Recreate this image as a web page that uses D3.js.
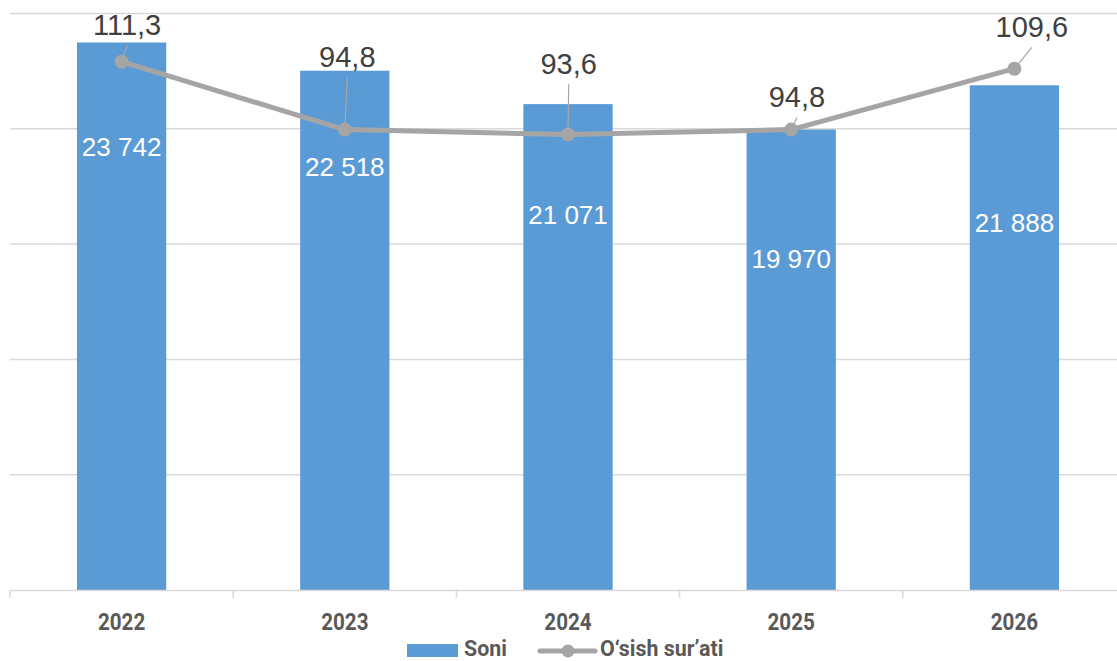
<!DOCTYPE html>
<html>
<head>
<meta charset="utf-8">
<script src="https://cdn.jsdelivr.net/npm/d3@7"></script>
<style>
  html, body { margin: 0; padding: 0; background: #fff; }
  svg { display: block; }
</style>
</head>
<body>
<svg id="chart" width="1117" height="661"></svg>
<script>
// ---- data ----
const years = ["2022", "2023", "2024", "2025", "2026"];
const soni = [23742, 22518, 21071, 19970, 21888];
const osish = [111.3, 94.8, 93.6, 94.8, 109.6];
const soniLabels = ["23 742", "22 518", "21 071", "19 970", "21 888"];
const osishLabels = ["111,3", "94,8", "93,6", "94,8", "109,6"];
const yTicks = [0, 5000, 10000, 15000, 20000, 25000];
const seriesNames = ["Soni", "O\u2018sish sur\u2019ati"];

// ---- label placement (style, not data) ----
const barLabelOffset = [113.5, 105, 120.2, 138.8, 146.4];
const lineLabelOffset = [[5.5, -26.2], [2.5, -62.5], [0.7, -60.2], [5.75, -22.2], [17.5, -31.4]];

(function () {
const svg = d3.select("#chart");
const pLeft = 10, pRight = 1126, pTop = 13.5, pBottom = 590;

const x = d3.scaleBand().domain(years).range([pLeft, pRight]).paddingInner(0).paddingOuter(0);
const y = d3.scaleLinear().domain([0, 25000]).range([pBottom, pTop]);
const y2 = d3.scaleLinear().domain([-17, 123]).range([pBottom, pTop]);
const barW = x.bandwidth() * 0.4;

// gridlines
svg.append("g").selectAll("line").data(yTicks.slice(1)).join("line")
  .attr("x1", pLeft).attr("x2", 1117)
  .attr("y1", d => y(d)).attr("y2", d => y(d))
  .attr("stroke", "#d9d9d9").attr("stroke-width", 1.5);

// bars
svg.append("g").selectAll("rect").data(soni).join("rect")
  .attr("x", (d, i) => x(years[i]) + (x.bandwidth() - barW) / 2)
  .attr("y", d => y(d))
  .attr("width", barW)
  .attr("height", d => y(0) - y(d))
  .attr("fill", "#5b9bd5");

// x axis
const xAxis = d3.axisBottom(x).tickSize(0).tickFormat(() => "");
const gx = svg.append("g").attr("transform", `translate(0,${pBottom})`).call(xAxis);
gx.select(".domain").attr("stroke", "#d9d9d9").attr("stroke-width", 1.5);
const edges = years.map(d => x(d)).concat([x(years[years.length - 1]) + x.bandwidth()]);
gx.selectAll(".edge").data(edges).join("line").attr("class", "edge")
  .attr("x1", d => d).attr("x2", d => d).attr("y1", 0).attr("y2", 8)
  .attr("stroke", "#d9d9d9").attr("stroke-width", 1.5);

// x labels
svg.append("g").selectAll("text").data(years).join("text")
  .attr("transform", d => `translate(${x(d) + x.bandwidth() / 2},630) scale(0.86,1)`)
  .attr("text-anchor", "middle")
  .attr("font-family", "Roboto, 'Liberation Sans', sans-serif")
  .attr("font-weight", "bold").attr("font-size", 24)
  .attr("fill", "#595959")
  .text(d => d);

// bar labels
svg.append("g").selectAll("text").data(soni).join("text")
  .attr("x", (d, i) => x(years[i]) + x.bandwidth() / 2)
  .attr("y", (d, i) => y(d) + barLabelOffset[i])
  .attr("text-anchor", "middle")
  .attr("font-family", "'Liberation Sans', Arial, sans-serif")
  .attr("font-size", 26).attr("fill", "#ffffff")
  .text((d, i) => soniLabels[i]);

// line
const pts = osish.map((v, i) => [x(years[i]) + x.bandwidth() / 2, y2(v)]);
svg.append("path").datum(pts)
  .attr("d", d3.line())
  .attr("fill", "none").attr("stroke", "#a5a5a5").attr("stroke-width", 5)
  .attr("stroke-linejoin", "round");

// leader lines
const lead = svg.append("g");
pts.forEach((p, i) => {
  const lx = p[0] + lineLabelOffset[i][0];
  const ly = p[1] + lineLabelOffset[i][1] + 10;
  const dx = p[0] - lx, dy = p[1] - ly;
  const len = Math.sqrt(dx * dx + dy * dy);
  const ex = p[0] - dx / len * 6.5, ey = p[1] - dy / len * 6.5;
  lead.append("line").attr("x1", lx).attr("y1", ly).attr("x2", ex).attr("y2", ey)
    .attr("stroke", "#a6a6a6").attr("stroke-width", 1.2);
});

// markers
svg.append("g").selectAll("circle").data(pts).join("circle")
  .attr("cx", d => d[0]).attr("cy", d => d[1]).attr("r", 7)
  .attr("fill", "#a5a5a5");

// line labels
svg.append("g").selectAll("text").data(pts).join("text")
  .attr("x", (d, i) => d[0] + lineLabelOffset[i][0])
  .attr("y", (d, i) => d[1] + lineLabelOffset[i][1])
  .attr("text-anchor", "middle")
  .attr("font-family", "'Liberation Sans', Arial, sans-serif")
  .attr("font-size", 29).attr("fill", "#404040")
  .text((d, i) => osishLabels[i]);

// legend
const lg = svg.append("g");
lg.append("rect").attr("x", 407).attr("y", 644).attr("width", 51).attr("height", 13).attr("fill", "#5b9bd5");
lg.append("text").attr("transform", "translate(464,656) scale(0.93,1)")
  .attr("font-family", "Roboto, 'Liberation Sans', sans-serif")
  .attr("font-weight", "bold").attr("font-size", 23).attr("fill", "#595959")
  .text(seriesNames[0]);
lg.append("line").attr("x1", 540).attr("x2", 595).attr("y1", 651).attr("y2", 651)
  .attr("stroke", "#a5a5a5").attr("stroke-width", 5).attr("stroke-linecap", "round");
lg.append("circle").attr("cx", 568).attr("cy", 651).attr("r", 6.5).attr("fill", "#a5a5a5");
lg.append("text").attr("transform", "translate(600,656) scale(0.93,1)")
  .attr("font-family", "Roboto, 'Liberation Sans', sans-serif")
  .attr("font-weight", "bold").attr("font-size", 23).attr("fill", "#595959")
  .text(seriesNames[1]);
})();
</script>
</body>
</html>
